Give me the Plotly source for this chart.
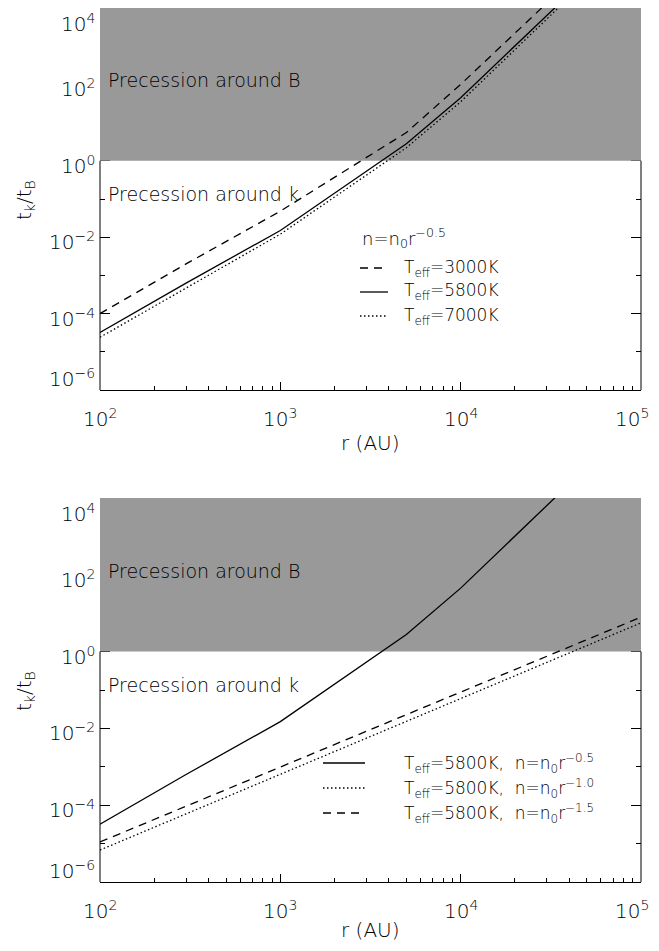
import math
import plotly.graph_objects as go

# ---------------- data ----------------
r_top = [100, 300, 1000, 5000, 10000, 50000]
teff3000 = [1.0e-4, 2.0e-3, 4.8e-2, 5.5, 100, 1.3e5]
teff5800 = [3.2e-5, 6.3e-4, 1.5e-2, 2.8, 45, 6.3e4]
teff7000 = [2.4e-5, 4.7e-4, 1.2e-2, 2.2, 35, 5.2e4]

r_bot = [100, 1000, 10000, 100000]
n_m10 = [6.8e-6, 6.3e-4, 5.9e-2, 5.6]
n_m15 = [1.1e-5, 1.0e-3, 8.9e-2, 7.9]

threshold = 1.0
x_lim = [1e2, 1e5]
y_lim = [1e-6, 1e4]

ytickvals = [1e-6, 1e-4, 1e-2, 1e0, 1e2, 1e4]
yticktext = ["10<sup>−6</sup>", "10<sup>−4</sup>", "10<sup>−2</sup>",
             "10<sup>0</sup>", "10<sup>2</sup>", "10<sup>4</sup>"]
yminor = [1e-5, 1e-3, 1e-1, 1e1, 1e3]
xtickvals = [1e2, 1e3, 1e4, 1e5]
xticktext = ["10<sup>2</sup>", "10<sup>3</sup>", "10<sup>4</sup>", "10<sup>5</sup>"]
xminor = [2e2, 3e2, 4e2, 5e2, 6e2, 7e2, 8e2, 9e2,
          2e3, 3e3, 4e3, 5e3, 6e3, 7e3, 8e3, 9e3,
          2e4, 3e4, 4e4, 5e4, 6e4, 7e4, 8e4, 9e4]

# ---------------- style ----------------
FONT = "DejaVu Sans"
WEIGHT = 200
GRAY = "#999999"
LW = 1.3
DASH = "8px,6px"
DOT = "1.5px,2.5px"

OFF = 8  # page body margin
W, H = 643, 935
ML, MR, MT, MB = 92, 10, 0, 61
PW = W - ML - MR
PH = H - MT - MB


def px2paper(xp, yp):
    # xp, yp are page pixel positions
    return (xp - OFF - ML) / PW, (H - MB - (yp - OFF)) / PH


fig = go.Figure()

panels = [("x", "y"), ("x2", "y2")]
for xa, ya in panels:
    fig.add_trace(go.Scatter(
        x=[x_lim[0], x_lim[1], x_lim[1], x_lim[0], x_lim[0]],
        y=[threshold, threshold, y_lim[1], y_lim[1], threshold],
        fill="toself", fillcolor=GRAY, line=dict(width=0), mode="lines",
        hoverinfo="skip", showlegend=False, xaxis=xa, yaxis=ya))

# top panel curves
fig.add_trace(go.Scatter(x=r_top, y=teff3000, mode="lines",
                         line=dict(color="black", width=LW, dash=DASH),
                         showlegend=False, xaxis="x", yaxis="y"))
fig.add_trace(go.Scatter(x=r_top, y=teff5800, mode="lines",
                         line=dict(color="black", width=LW),
                         showlegend=False, xaxis="x", yaxis="y"))
fig.add_trace(go.Scatter(x=r_top, y=teff7000, mode="lines",
                         line=dict(color="black", width=LW, dash=DOT),
                         showlegend=False, xaxis="x", yaxis="y"))
# bottom panel curves
fig.add_trace(go.Scatter(x=r_top, y=teff5800, mode="lines",
                         line=dict(color="black", width=LW),
                         showlegend=False, xaxis="x2", yaxis="y2"))
fig.add_trace(go.Scatter(x=r_bot, y=n_m10, mode="lines",
                         line=dict(color="black", width=LW, dash=DOT),
                         showlegend=False, xaxis="x2", yaxis="y2"))
fig.add_trace(go.Scatter(x=r_bot, y=n_m15, mode="lines",
                         line=dict(color="black", width=LW, dash=DASH),
                         showlegend=False, xaxis="x2", yaxis="y2"))

xr = [math.log10(v) for v in x_lim]
yr = [math.log10(v) for v in y_lim]

tickfont = dict(family=FONT, size=20, color="black", weight=WEIGHT)
xax = dict(type="log", range=xr, showgrid=False, zeroline=False,
           showline=True, linecolor="black", linewidth=1,
           automargin=False, showticklabels=False,
           ticks="inside", ticklen=8, tickwidth=1, tickcolor="black",
           tickmode="array", tickvals=xtickvals,
           minor=dict(tickmode="array", tickvals=xminor, ticks="inside",
                      ticklen=4, tickwidth=1, tickcolor="black"),
           layer="below traces", mirror=False)
yax = dict(type="log", range=yr, showgrid=False, zeroline=False, showline=False,
           automargin=False, showticklabels=False,
           ticks="inside", ticklen=10, tickwidth=1, tickcolor="black",
           tickmode="array", tickvals=ytickvals,
           minor=dict(tickmode="array", tickvals=yminor, ticks="inside",
                      ticklen=5, tickwidth=1, tickcolor="black"),
           layer="below traces", mirror="ticks")

top_dom = [(H - MB - (390 - OFF)) / PH, 1.0]
bot_dom = [0.0, (H - MB - (498 - OFF)) / PH]

fig.update_layout(
    width=W, height=H,
    margin=dict(l=ML, r=MR, t=MT, b=MB, autoexpand=False),
    paper_bgcolor="white", plot_bgcolor="white",
    showlegend=False,
    xaxis=dict(xax, anchor="y", domain=[0, 1]),
    yaxis=dict(yax, anchor="x", domain=top_dom),
    xaxis2=dict(xax, anchor="y2", domain=[0, 1]),
    yaxis2=dict(yax, anchor="x2", domain=bot_dom),
)

# vertical axis lines, only in the white (unshaded) part of each panel
frac = (math.log10(threshold) - yr[0]) / (yr[1] - yr[0])
for dom in (top_dom, bot_dom):
    yb = dom[0]
    yt = dom[0] + frac * (dom[1] - dom[0])
    for xp in (0, 1):
        fig.add_shape(type="line", xref="paper", yref="paper", x0=xp, x1=xp,
                      y0=yb, y1=yt, line=dict(color="black", width=1))

anns = []

# y tick labels (IDL style: the end labels are kept inside the axis range)
for xa, ya in panels:
    for v, t in zip(ytickvals, yticktext):
        if v == ytickvals[-1]:
            yanc, ysh = "top", 0
        elif v == ytickvals[0]:
            yanc, ysh = "bottom", -3
        else:
            yanc, ysh = "middle", -4
        anns.append(dict(x=0, y=math.log10(v), xref=xa + " domain", yref=ya,
                         text=t, showarrow=False, xanchor="right", yanchor=yanc,
                         xshift=-3, yshift=ysh, font=tickfont))
    # x tick labels
    for v, t in zip(xtickvals, xticktext):
        last = v == xtickvals[-1]
        anns.append(dict(x=math.log10(v), y=0, xref=xa, yref=ya + " domain",
                         text=t, showarrow=False,
                         xanchor="right" if last else "center",
                         xshift=10 if last else 0,
                         yanchor="top", yshift=-13, font=tickfont))


def txt(xp, yp, s, size=18, xanchor="left", angle=0):
    px, py = px2paper(xp, yp)
    anns.append(dict(x=px, y=py, xref="paper", yref="paper", text=s,
                     showarrow=False, xanchor=xanchor, yanchor="middle",
                     textangle=angle,
                     font=dict(family=FONT, size=size, color="black", weight=WEIGHT)))


def sample(x0, x1, yp, dash):
    p0x, p0y = px2paper(x0, yp)
    p1x, _ = px2paper(x1, yp)
    fig.add_shape(type="line", xref="paper", yref="paper", x0=p0x, x1=p1x,
                  y0=p0y, y1=p0y,
                  line=dict(color="black", width=LW, dash=dash))


for off, ttl_y in ((0, 443), (491, 930)):
    txt(106, 80 + off, "Precession around B", size=19)
    txt(106, 194 + off, "Precession around k", size=19)
    txt(25, 200 + off, "t<sub>k</sub>/t<sub>B</sub>", size=20, xanchor="center", angle=-90)
    txt(370, ttl_y, "r (AU)", size=20, xanchor="center")

# top legend
txt(360, 238, "n=n<sub>0</sub>r<sup>−0.5</sup>", size=18)
sample(360, 388, 268, DASH)
sample(360, 388, 292, "solid")
sample(360, 388, 316, DOT)
txt(402, 268, "T<sub>eff</sub>=3000K", size=17)
txt(402, 292, "T<sub>eff</sub>=5800K", size=17)
txt(402, 316, "T<sub>eff</sub>=7000K", size=17)

# bottom legend
sample(323, 365, 763, "solid")
sample(323, 365, 788, DOT)
sample(323, 365, 813, DASH)
txt(402, 763, "T<sub>eff</sub>=5800K,  n=n<sub>0</sub>r<sup>−0.5</sup>", size=17)
txt(402, 788, "T<sub>eff</sub>=5800K,  n=n<sub>0</sub>r<sup>−1.0</sup>", size=17)
txt(402, 813, "T<sub>eff</sub>=5800K,  n=n<sub>0</sub>r<sup>−1.5</sup>", size=17)

fig.update_layout(annotations=anns)
fig.write_html("out.html")
